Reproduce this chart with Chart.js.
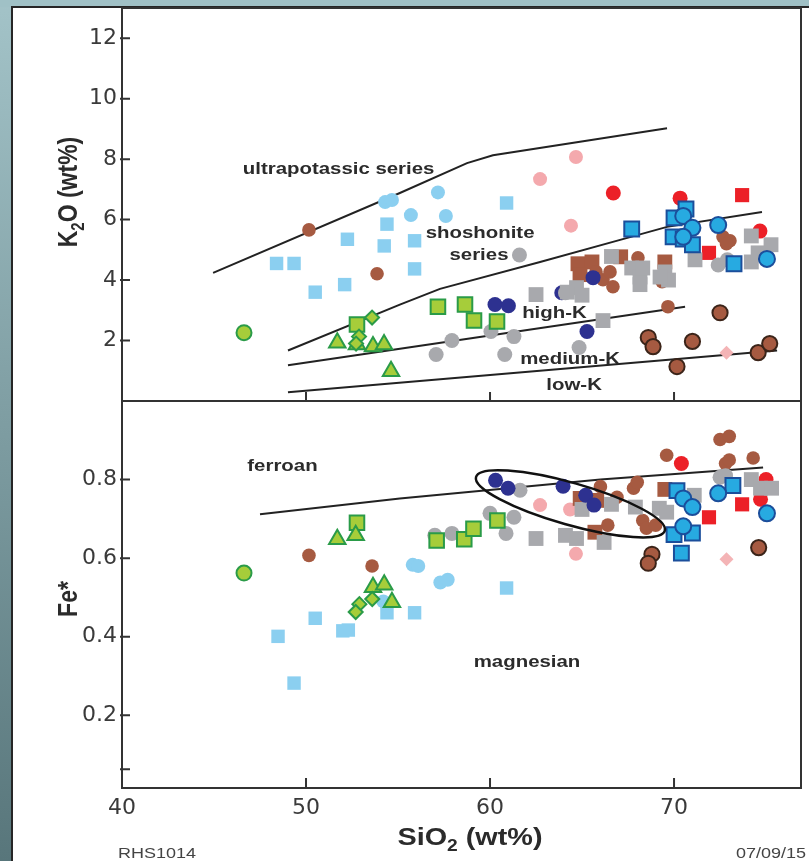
<!DOCTYPE html>
<html><head><meta charset="utf-8">
<script src="https://cdn.jsdelivr.net/npm/chart.js@4.4.1/dist/chart.umd.min.js"></script>
<style>
html,body{margin:0;padding:0;background:#fff;}
#wrap{position:relative;width:809px;height:861px;overflow:hidden;background:#fff;}
#stripL{position:absolute;left:0;top:0;width:12px;height:861px;background:linear-gradient(#a3c3c8,#58767b);}
#stripT{position:absolute;left:0;top:0;width:809px;height:7px;background:#a0c1c6;}
#lineL{position:absolute;left:11px;top:6px;width:2px;height:855px;background:#262626;}
#lineT{position:absolute;left:11px;top:6px;width:798px;height:2px;background:#262626;}
canvas{position:absolute;left:0;top:0;}
</style></head>
<body><div id="wrap">
<div id="stripL"></div><div id="stripT"></div><div id="lineL"></div><div id="lineT"></div>
<canvas id="c" width="809" height="861"></canvas>
</div>
<script>
// ---------- tick values / labels ----------
const xTickValues = [40, 50, 60, 70];
const xTickLabels = ['40', '50', '60', '70'];
const kTickValues = [2, 4, 6, 8, 10, 12];
const kTickLabels = ['2', '4', '6', '8', '10', '12'];
const feTickValues = [0.063, 0.2, 0.4, 0.6, 0.8];
const feTickLabels = ['', '0.2', '0.4', '0.6', '0.8'];

// ---------- top panel: SiO2 vs K2O ----------
const lightBlueSqK = [[48.4,4.55],[49.35,4.55],[50.5,3.6],[52.1,3.85],[52.25,5.35],[54.4,5.85],[54.25,5.13],[55.9,5.3],[55.9,4.37],[60.9,6.55]];
const lightBlueCircK = [[54.3,6.58],[54.67,6.65],[55.7,6.15],[57.17,6.9],[57.6,6.12]];
const brownCircK = [[50.16,5.66],[53.86,4.21],[66.14,4.01],[66.68,3.78],[66.52,4.27],[65.76,4.27],[68.04,4.74],[69.35,3.95],[69.67,3.12],[72.66,5.43],[73.04,5.3],[72.85,5.2]];
const brownSqK = [[64.78,4.54],[65.54,4.6],[64.89,4.18],[67.1,4.77],[69.5,4.6]];
const brownOutK = [[72.5,2.92],[68.6,2.1],[68.86,1.8],[71.0,1.97],[70.16,1.14],[74.57,1.6],[75.2,1.9]];
const pinkCircK = [[64.67,8.07],[62.72,7.34],[64.4,5.8]];
const pinkDiamK = [[72.85,1.6]];
const redCircK = [[66.7,6.88],[70.33,6.71],[74.67,5.62]];
const redSqK = [[73.7,6.81],[71.9,4.9]];
const blueSqK = [[67.7,5.69],[70.0,6.06],[70.65,6.35],[69.95,5.43],[70.5,5.36],[71.0,5.17],[73.26,4.54]];
const blueCircK = [[70.5,6.12],[71.0,5.73],[70.5,5.43],[72.4,5.82],[75.05,4.7]];
const navyK = [[60.27,3.19],[61.0,3.15],[65.27,2.3],[65.6,4.08],[63.9,3.58]];
const grayCircK = [[61.6,4.83],[57.93,2.0],[60.05,2.3],[61.3,2.13],[57.07,1.54],[60.8,1.54],[64.84,1.77],[64.1,3.58],[72.4,4.5],[72.9,4.67]];
const graySqK = [[62.5,3.52],[66.14,2.66],[66.6,4.78],[64.2,3.6],[64.7,3.75],[65.0,3.5],[67.7,4.4],[68.15,4.1],[68.3,4.4],[69.5,4.27],[69.7,4.0],[68.15,3.85],[69.24,4.1],[71.14,4.67],[74.2,5.46],[75.27,5.17],[74.2,4.6],[74.57,4.9]];
const greenCircK = [[46.63,2.26]];
const greenSqK = [[52.77,2.53],[57.17,3.12],[58.64,3.19],[59.13,2.66],[60.38,2.63]];
const greenTriK = [[51.7,1.93],[52.77,1.87],[53.64,1.8],[54.24,1.87],[54.62,0.98]];
const greenDiamK = [[53.59,2.76],[52.88,2.13],[52.72,1.9]];

// boundary lines (K2O panel)
const ultraLine = [[44.95,4.24],[55.1,6.88],[58.75,7.87],[60.16,8.13],[69.62,9.02]];
const shoshLine = [[49.02,1.67],[55.1,3.19],[57.28,3.71],[62.72,4.6],[67.07,5.33],[69.62,5.76],[74.78,6.25]];
const highKLine = [[49.02,1.18],[70.6,3.12]];
const lowKLine = [[49.02,0.29],[75.6,1.67]];

// ---------- bottom panel: SiO2 vs Fe* ----------
const lightBlueSqF = [[48.48,0.401],[49.35,0.282],[50.5,0.447],[52.0,0.415],[52.3,0.417],[54.4,0.461],[55.9,0.461],[60.9,0.524]];
const lightBlueCircF = [[54.2,0.49],[55.8,0.583],[56.1,0.58],[57.3,0.538],[57.7,0.545]];
const brownCircF = [[50.16,0.607],[53.59,0.58],[66.4,0.684],[66.0,0.782],[67.8,0.778],[66.9,0.755],[68.0,0.793],[69.6,0.862],[72.5,0.902],[73.0,0.91],[72.8,0.841],[73.0,0.85],[74.3,0.855],[68.3,0.696],[68.5,0.676],[69.0,0.684]];
const brownOutF = [[68.8,0.61],[68.6,0.587],[74.6,0.627]];
const brownSqF = [[64.9,0.752],[65.8,0.747],[65.7,0.666],[69.5,0.775]];
const pinkCircF = [[62.72,0.735],[64.35,0.724],[64.67,0.611]];
const pinkDiamF = [[72.85,0.597]];
const redCircF = [[70.4,0.841],[74.7,0.75],[75.0,0.8]];
const redSqF = [[71.9,0.704],[73.7,0.737]];
const blueSqF = [[70.16,0.772],[73.2,0.785],[70.0,0.66],[71.0,0.664],[70.4,0.613]];
const blueCircF = [[70.5,0.752],[71.0,0.73],[72.4,0.765],[70.5,0.681],[75.05,0.714]];
const navyF = [[60.3,0.798],[60.98,0.778],[63.97,0.783],[65.2,0.76],[65.65,0.735]];
const grayCircF = [[57.0,0.658],[57.93,0.663],[60.0,0.714],[61.63,0.773],[61.3,0.704],[60.87,0.663],[72.5,0.806],[72.8,0.81]];
const graySqF = [[62.5,0.65],[64.1,0.658],[64.7,0.65],[66.2,0.64],[65.0,0.724],[66.6,0.737],[67.9,0.73],[69.2,0.727],[69.6,0.717],[71.1,0.76],[74.2,0.8],[74.7,0.778],[75.3,0.778]];
const greenCircF = [[46.63,0.562]];
const greenSqF = [[52.77,0.69],[57.1,0.645],[58.6,0.648],[59.1,0.675],[60.4,0.696]];
const greenTriF = [[51.7,0.648],[52.7,0.658],[53.64,0.526],[54.25,0.532],[54.67,0.488]];
const greenDiamF = [[52.9,0.483],[53.6,0.496],[52.7,0.463]];

// boundary line (Fe* panel) and ellipse axis tips
const feLine = [[47.5,0.712],[55.1,0.752],[66.0,0.80],[74.84,0.831]];
const ellipseTips = [[59.24,0.8066],[69.5,0.670]];

// annotations
const kNotes = ['ultrapotassic series','shoshonite','series','high-K','medium-K','low-K'];
const kNoteX = [51.77, 59.46, 59.4, 63.5, 64.35, 64.57];
const kNoteY = [7.51, 5.40, 4.67, 2.76, 1.21, 0.35];
const feNotes = ['ferroan','magnesian'];
const feNoteX = [48.72, 62.01];
const feNoteY = [0.821, 0.322];

// ---------- styles ----------
const S = {
  lbSq:   {ps:'rect', r:9.5, bg:'#8bcff0', bc:'#8bcff0', bw:0},
  lbCi:   {ps:'circle', r:7, bg:'#8bcff0', bc:'#8bcff0', bw:0},
  brCi:   {ps:'circle', r:6.8, bg:'#a65a41', bc:'#a65a41', bw:0},
  brSq:   {ps:'rect', r:10.5, bg:'#a65a41', bc:'#a65a41', bw:0},
  brOut:  {ps:'circle', r:7.6, bg:'#a65a41', bc:'#3b2419', bw:2},
  pkCi:   {ps:'circle', r:7, bg:'#f4a9ad', bc:'#f4a9ad', bw:0},
  pkDi:   {ps:'rectRot', r:7, bg:'#f4b4b6', bc:'#f4b4b6', bw:0},
  rdCi:   {ps:'circle', r:7.5, bg:'#ec2027', bc:'#ec2027', bw:0},
  rdSq:   {ps:'rect', r:10, bg:'#ec2027', bc:'#ec2027', bw:0},
  bSq:    {ps:'rect', r:10.5, bg:'#27aae1', bc:'#1b4e9b', bw:2},
  bCi:    {ps:'circle', r:8, bg:'#27aae1', bc:'#1b4e9b', bw:2},
  nvCi:   {ps:'circle', r:7.5, bg:'#2d3190', bc:'#2d3190', bw:0},
  gyCi:   {ps:'circle', r:7.5, bg:'#a8a9ad', bc:'#a8a9ad', bw:0},
  gySq:   {ps:'rect', r:10.5, bg:'#a8a9ad', bc:'#a8a9ad', bw:0},
  gnCi:   {ps:'circle', r:7.5, bg:'#a6cd3a', bc:'#2a9b48', bw:2},
  gnSq:   {ps:'rect', r:10.3, bg:'#a6cd3a', bc:'#2a9b48', bw:2},
  gnTr:   {ps:'triangle', r:9.5, bg:'#a6cd3a', bc:'#2a9b48', bw:2},
  gnDi:   {ps:'rectRot', r:7, bg:'#a6cd3a', bc:'#2a9b48', bw:2}
};

function pts(data, axis, st, order) {
  return {type:'scatter', data:data.map(p => ({x:p[0], y:p[1]})), xAxisID:'x', yAxisID:axis,
    pointStyle:st.ps, pointRadius:st.r, pointHoverRadius:st.r, pointBackgroundColor:st.bg,
    pointBorderColor:st.bc, pointBorderWidth:st.bw, showLine:false, order:order};
}
function ln(data, axis) {
  return {type:'line', data:data.map(p => ({x:p[0], y:p[1]})), xAxisID:'x', yAxisID:axis,
    borderColor:'#222', borderWidth:2, pointRadius:0, fill:false, tension:0, order:1000};
}

const datasets = [
  pts(blueCircK,'yK',S.bCi,1), pts(blueSqK,'yK',S.bSq,2),
  pts(greenDiamK,'yK',S.gnDi,3), pts(greenTriK,'yK',S.gnTr,4), pts(greenSqK,'yK',S.gnSq,5), pts(greenCircK,'yK',S.gnCi,6),
  pts(brownOutK,'yK',S.brOut,7), pts(graySqK,'yK',S.gySq,8), pts(grayCircK,'yK',S.gyCi,9), pts(navyK,'yK',S.nvCi,10),
  pts(redSqK,'yK',S.rdSq,11), pts(redCircK,'yK',S.rdCi,12), pts(brownCircK,'yK',S.brCi,13), pts(brownSqK,'yK',S.brSq,14),
  pts(pinkDiamK,'yK',S.pkDi,15), pts(pinkCircK,'yK',S.pkCi,16), pts(lightBlueCircK,'yK',S.lbCi,17), pts(lightBlueSqK,'yK',S.lbSq,18),
  pts(blueCircF,'yF',S.bCi,1), pts(blueSqF,'yF',S.bSq,2),
  pts(greenDiamF,'yF',S.gnDi,3), pts(greenTriF,'yF',S.gnTr,4), pts(greenSqF,'yF',S.gnSq,5), pts(greenCircF,'yF',S.gnCi,6),
  pts(brownOutF,'yF',S.brOut,7), pts(navyF,'yF',S.nvCi,8), pts(graySqF,'yF',S.gySq,9), pts(grayCircF,'yF',S.gyCi,10),
  pts(redSqF,'yF',S.rdSq,11), pts(redCircF,'yF',S.rdCi,12), pts(brownSqF,'yF',S.brSq,13), pts(brownCircF,'yF',S.brCi,14),
  pts(pinkDiamF,'yF',S.pkDi,15), pts(pinkCircF,'yF',S.pkCi,16), pts(lightBlueCircF,'yF',S.lbCi,17), pts(lightBlueSqF,'yF',S.lbSq,18),
  ln(ultraLine,'yK'), ln(shoshLine,'yK'), ln(highKLine,'yK'), ln(lowKLine,'yK'), ln(feLine,'yF')
];

const SX = 1.2;
const FONT = '"Liberation Sans", Arial, Helvetica, sans-serif';
function drawLabel(c, parts, o) {
  c.save();
  c.translate(o.x, o.y);
  if (o.rotate) { c.rotate(-Math.PI / 2); c.scale(1, o.sx); } else { c.scale(o.sx, 1); }
  c.fillStyle = o.color; c.textBaseline = 'alphabetic'; c.textAlign = 'left';
  const w0 = o.bold ? 'bold ' : '';
  const mf = w0 + o.size + 'px ' + FONT;
  const sf = w0 + (o.subSize || o.size) + 'px ' + FONT;
  const ws = []; let w = 0;
  parts.forEach(p => { c.font = p.sub ? sf : mf; const m = c.measureText(p.t).width; ws.push(m); w += m; });
  let cx = o.align === 'center' ? -w / 2 : (o.align === 'right' ? -w : 0);
  parts.forEach((p, i) => { c.font = p.sub ? sf : mf; c.fillText(p.t, cx, p.sub ? o.subDy : 0); cx += ws[i]; });
  c.restore();
}

const framePlugin = {
  id: 'frame',
  afterDatasetsDraw(chart) {
    const c = chart.ctx, x = chart.scales.x, yK = chart.scales.yK, yF = chart.scales.yF;
    // ellipse
    const x1 = x.getPixelForValue(ellipseTips[0][0]), y1 = yF.getPixelForValue(ellipseTips[0][1]);
    const x2 = x.getPixelForValue(ellipseTips[1][0]), y2 = yF.getPixelForValue(ellipseTips[1][1]);
    c.save();
    c.beginPath();
    c.ellipse((x1 + x2) / 2, (y1 + y2) / 2, Math.hypot(x2 - x1, y2 - y1) / 2, 21, Math.atan2(y2 - y1, x2 - x1), 0, Math.PI * 2);
    c.strokeStyle = '#111'; c.lineWidth = 2.5; c.stroke();
    c.restore();
    // annotations
    kNotes.forEach((t, i) => drawLabel(c, [{t}], {x:x.getPixelForValue(kNoteX[i]), y:yK.getPixelForValue(kNoteY[i]), align:'center', size:17, bold:true, sx:SX, color:'#2b2b2b'}));
    feNotes.forEach((t, i) => drawLabel(c, [{t}], {x:x.getPixelForValue(feNoteX[i]), y:yF.getPixelForValue(feNoteY[i]), align:'center', size:17, bold:true, sx:SX, color:'#2b2b2b'}));
  },
  afterDraw(chart) {
    const c = chart.ctx, a = chart.chartArea, x = chart.scales.x, yK = chart.scales.yK, yF = chart.scales.yF;
    c.save();
    c.strokeStyle = '#333'; c.lineWidth = 2;
    c.beginPath();
    c.rect(a.left, a.top, a.right - a.left, a.bottom - a.top);
    const mid = yK.bottom;
    c.moveTo(a.left, mid); c.lineTo(a.right, mid);
    kTickValues.forEach(v => { const p = yK.getPixelForValue(v); c.moveTo(a.left - 2, p); c.lineTo(a.left + 8, p); });
    feTickValues.forEach(v => { const p = yF.getPixelForValue(v); c.moveTo(a.left - 2, p); c.lineTo(a.left + 8, p); });
    xTickValues.slice(1).forEach(v => {
      const p = x.getPixelForValue(v);
      c.moveTo(p, a.bottom); c.lineTo(p, a.bottom - 10);
      c.moveTo(p, mid); c.lineTo(p, mid - 9);
    });
    c.stroke();
    c.restore();
    // axis titles
    drawLabel(c, [{t:'K'},{t:'2',sub:true},{t:'O (wt%)'}], {x:77, y:192, rotate:true, align:'center', size:23, subSize:15, subDy:6, bold:true, sx:SX, color:'#2b2b2b'});
    drawLabel(c, [{t:'Fe*'}], {x:77, y:599, rotate:true, align:'center', size:23, bold:true, sx:SX, color:'#2b2b2b'});
    drawLabel(c, [{t:'SiO'},{t:'2',sub:true},{t:' (wt%)'}], {x:470, y:845, align:'center', size:24, subSize:16, subDy:6, bold:true, sx:SX, color:'#2b2b2b'});
    drawLabel(c, [{t:'RHS1014'}], {x:118, y:858, align:'left', size:15, sx:SX, color:'#444'});
    drawLabel(c, [{t:'07/09/15'}], {x:806, y:858, align:'right', size:15, sx:SX, color:'#444'});
  }
};

function fitY(s) { s.width = 110; s.paddingTop = 0; s.paddingBottom = 0; s.paddingLeft = 0; s.paddingRight = 0; }
function fitX(s) { s.height = 73; s.paddingLeft = 0; s.paddingRight = 0; s.paddingTop = 0; s.paddingBottom = 0; }

const tickFont = {family:'"DejaVu Sans", sans-serif', size:22};
new Chart(document.getElementById('c'), {
  type: 'scatter',
  data: {datasets},
  options: {
    responsive:false, animation:false, events:[], devicePixelRatio:1,
    layout:{autoPadding:false, padding:{left:12, right:8, top:8, bottom:0}},
    plugins:{legend:{display:false}, tooltip:{enabled:false}},
    scales:{
      x:{type:'linear', position:'bottom', min:40, max:76.9,
        afterBuildTicks:s => { s.ticks = xTickValues.map(v => ({value:v})); },
        afterFit:fitX,
        grid:{display:false, drawTicks:false}, border:{display:false},
        ticks:{font:tickFont, color:'#3a3a3a', padding:7, maxRotation:0, autoSkip:false, callback:(v, i) => xTickLabels[i]}},
      yF:{type:'linear', position:'left', stack:'panels', stackWeight:387, min:0.015, max:1.0,
        afterBuildTicks:s => { s.ticks = feTickValues.map(v => ({value:v})); },
        afterFit:fitY,
        grid:{display:false, drawTicks:false}, border:{display:false},
        ticks:{font:tickFont, color:'#3a3a3a', padding:5, autoSkip:false, callback:(v, i) => feTickLabels[i]}},
      yK:{type:'linear', position:'left', stack:'panels', stackWeight:393, min:0, max:13,
        afterBuildTicks:s => { s.ticks = kTickValues.map(v => ({value:v})); },
        afterFit:fitY,
        grid:{display:false, drawTicks:false}, border:{display:false},
        ticks:{font:tickFont, color:'#3a3a3a', padding:5, autoSkip:false, callback:(v, i) => kTickLabels[i]}}
    }
  },
  plugins:[framePlugin]
});
</script></body></html>
